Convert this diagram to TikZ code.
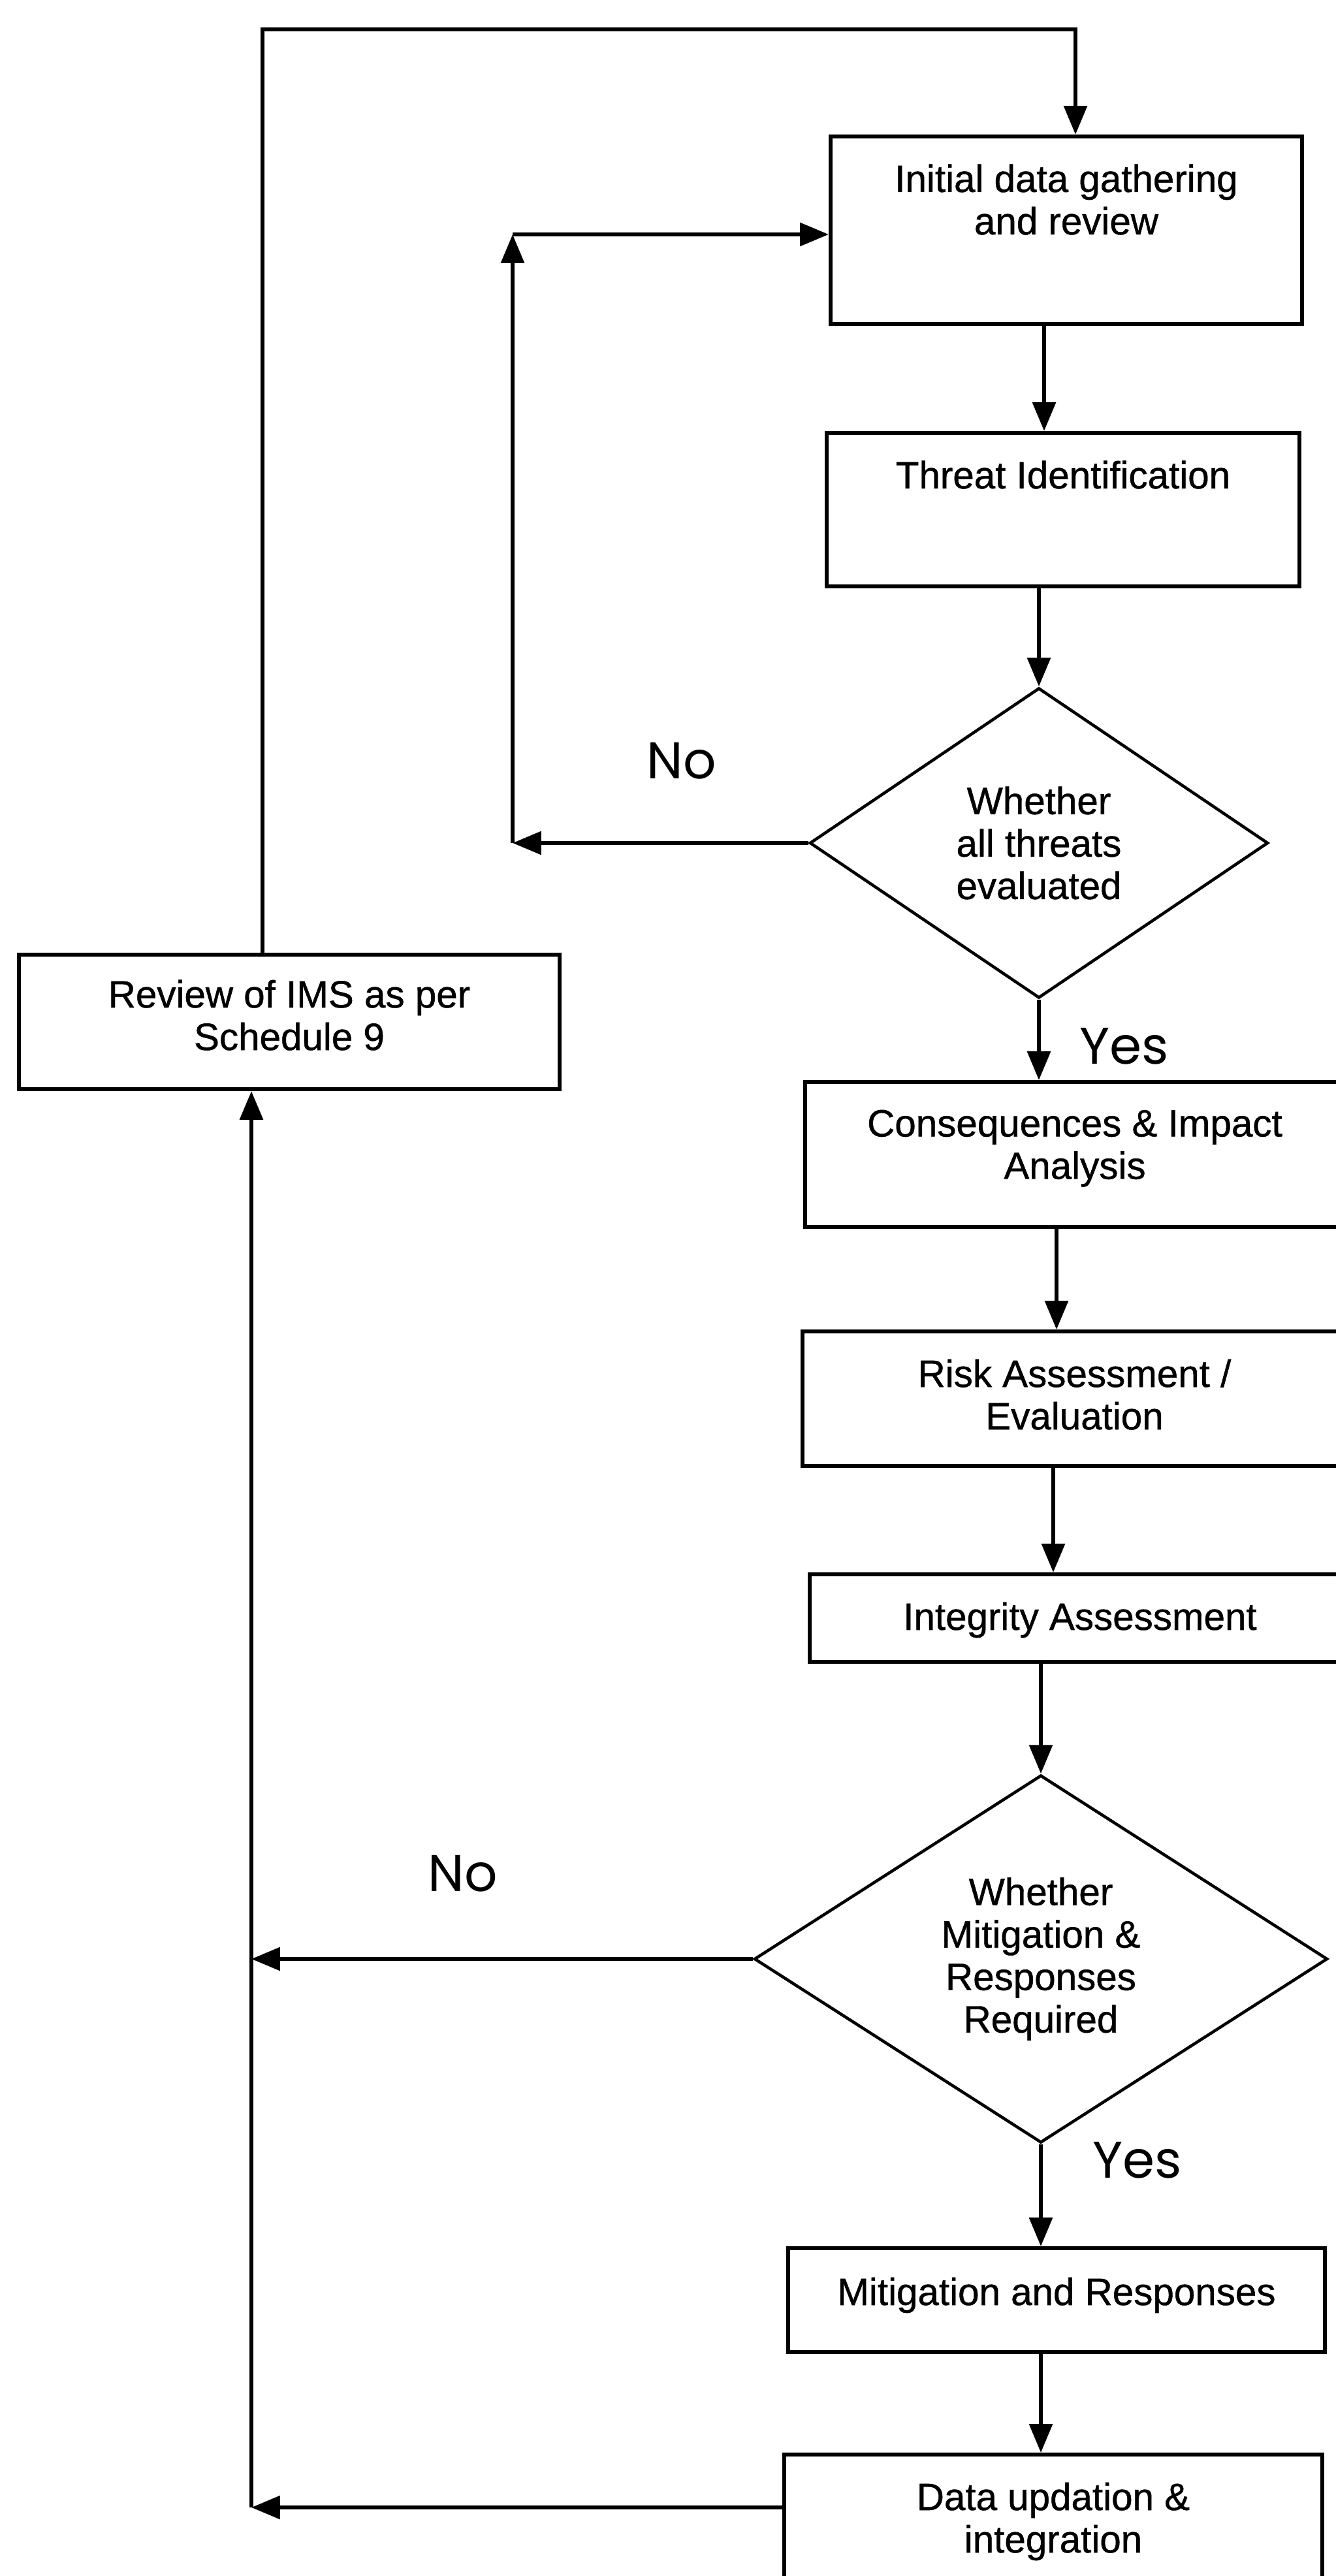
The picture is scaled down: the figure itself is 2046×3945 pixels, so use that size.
\documentclass[tikz,border=0pt]{standalone}
\usepackage{fontspec}
\setmainfont{Liberation Sans}[FakeBold=0.8]
\newfontfamily\gothic{Poppins}
\usetikzlibrary{shapes.geometric,arrows.meta}
\begin{document}
\begin{tikzpicture}[x=0.1mm,y=-0.1mm,
  box/.style={draw, line width=1.7pt, inner sep=0pt},
  lbl/.style={anchor=north, yshift=-4.5mm, align=center, inner sep=0pt, font=\fontsize{16.6}{18.5}\selectfont},
  dia/.style={diamond, draw, line width=1.3pt, inner sep=0pt, align=center, font=\fontsize{16.6}{18.5}\selectfont},
  yn/.style={font=\gothic\fontsize{22.5}{26}\selectfont, inner sep=0pt},
  arr/.style={line width=1.6pt, -{Triangle[length=12.5pt,width=10pt]}}]
\useasboundingbox (0,0) rectangle (2046,3945);
\clip (0,0) rectangle (2046,3945);

\node[box, minimum width=72.2mm, minimum height=28.7mm, label={[lbl]north:Initial data gathering\\and review}] (init) at (1633,352.5) {};
\node[box, minimum width=72.4mm, minimum height=23.5mm, label={[lbl]north:Threat Identification}] (threat) at (1628,780.5) {};
\node[dia, minimum width=70.2mm, minimum height=47.5mm] (d1) at (1591,1291) {Whether\\all threats\\evaluated};
\node[box, minimum width=82.8mm, minimum height=20.6mm, label={[lbl,yshift=0.4mm]north:Review of IMS as per\\Schedule 9}] (review) at (443,1565) {};
\node[box, minimum width=82.6mm, minimum height=22.2mm, label={[lbl]north:Consequences \& Impact\\Analysis}] (conseq) at (1646,1768) {};
\node[box, minimum width=83.3mm, minimum height=20.6mm, label={[lbl]north:Risk Assessment /\\Evaluation}] (risk) at (1645.5,2142) {};
\node[box, minimum width=82.8mm, minimum height=13.4mm, label={[lbl]north:Integrity Assessment}] (integ) at (1654,2478) {};
\node[dia, minimum width=87.8mm, minimum height=56.3mm] (d2) at (1594,3000) {Whether\\Mitigation \&\\Responses\\Required};
\node[box, minimum width=82.2mm, minimum height=15.9mm, label={[lbl,yshift=-0.2mm]north:Mitigation and Responses}] (mitig) at (1618,3522.5) {};
\node[box, minimum width=82.4mm, minimum height=20.6mm, label={[lbl]north:Data updation \&\\integration}] (data) at (1613,3862) {};

\node[yn] (no1) at (1044,1165) {No};
\node[yn] (yes1) at (1722,1602) {Yes};
\node[yn] (no2) at (709,2869) {No};
\node[yn] (yes2) at (1742,3308) {Yes};

\coordinate (lTL) at (402,45);
\coordinate (lTR) at (1647,45);
\draw[arr] (lTL |- review.north) -- (lTL) -- (lTR) -- (lTR |- init.north);
\draw[arr] ([xshift=-3.4mm]init.south) -- ([xshift=-3.4mm]init.south |- threat.north);
\draw[arr] (threat.south -| d1.north) -- (d1.north);
\draw[arr] (d1.south) -- (d1.south |- conseq.north);
\draw[arr] ([xshift=-2.8mm]conseq.south) -- ([xshift=-2.8mm]conseq.south |- risk.north);
\draw[arr] ([xshift=-3.25mm]risk.south) -- ([xshift=-3.25mm]risk.south |- integ.north);
\draw[arr] (integ.south -| d2.north) -- (d2.north);
\draw[arr] (d2.south) -- (d2.south |- mitig.north);
\draw[arr] (mitig.south -| d2.south) -- (d2.south |- data.north);

\coordinate (nBL) at (785,1291);
\coordinate (nTL) at (785,359);
\draw[arr] (d1.west) -- (nBL);
\draw[arr] (nBL) -- (nTL);
\draw[arr] (nTL) -- (nTL -| init.west);

\coordinate (fM) at (385,3000);
\coordinate (fB) at (385,3840);
\draw[arr] (d2.west) -- (fM);
\draw[arr] (fB -| data.west) -- (fB);
\draw[arr] (fB) -- (fB |- review.south);
\end{tikzpicture}
\end{document}
